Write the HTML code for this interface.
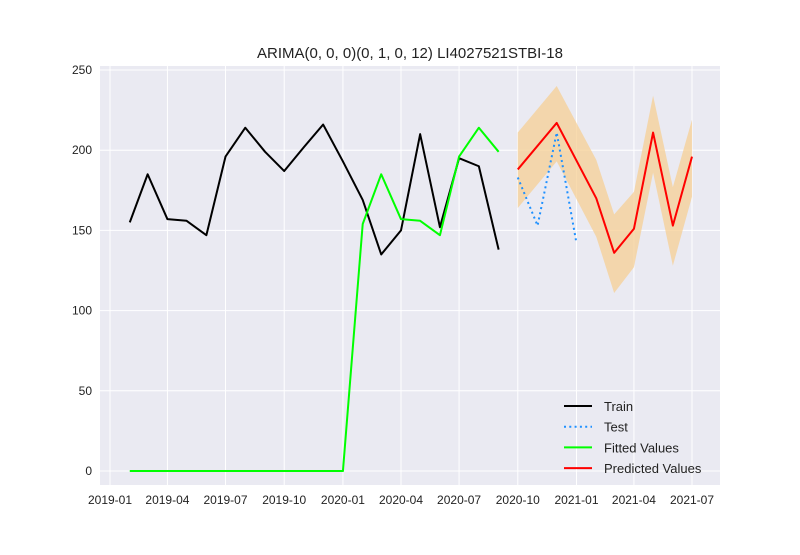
<!DOCTYPE html>
<html><head><meta charset="utf-8"><style>
body{margin:0;background:#fff;}
svg text{font-family:"Liberation Sans",Arial,sans-serif;}
</style></head><body>
<svg id="c" width="800" height="550" xmlns="http://www.w3.org/2000/svg"></svg>
<script>
const trainDates=["2019-02","2019-03","2019-04","2019-05","2019-06","2019-07","2019-08","2019-09","2019-10","2019-11","2019-12","2020-01","2020-02","2020-03","2020-04","2020-05","2020-06","2020-07","2020-08","2020-09"];
const trainVals=[155,185,157,156,147,196,214,199,187,202,216,193,169,135,150,210,152,195,190,138];
const fittedVals=[0,0,0,0,0,0,0,0,0,0,0,0,154,185,157,156,147,196,214,199];
const testDates=["2020-10","2020-11","2020-12","2021-01"];
const testVals=[183,153,211,142];
const predDates=["2020-10","2020-12","2021-02","2021-03","2021-04","2021-05","2021-06","2021-07"];
const predVals=[188,217,170,136,151,211,153,196];
const upperVals=[211,240,194,160,174,234,177,219];
const lowerVals=[164,193,146,111,127,186,128,171];
const yTicks=[0,50,100,150,200,250];
const xTicks=["2019-01","2019-04","2019-07","2019-10","2020-01","2020-04","2020-07","2020-10","2021-01","2021-04","2021-07"];

const NS="http://www.w3.org/2000/svg";
const svg=document.getElementById('c');
const L=100,R=720,T=66,B=485;
function d(s){const [y,m]=s.split('-').map(Number);return Date.UTC(y,m-1,1)/864e5;}
const d0=d("2019-01"),d1=d("2021-07");
const X=s=>110+(d(s)-d0)*(692-110)/(d1-d0);
const Y=v=>471-v*(401/250);
function el(t,a,p){const e=document.createElementNS(NS,t);for(const k in a)e.setAttribute(k,a[k]);(p||svg).appendChild(e);return e;}
const bg=el('rect',{x:L,y:T,width:R-L,height:B-T,fill:'#eaeaf2'});

yTicks.forEach(v=>{
 const g=el('line',{x1:L,x2:R,y1:Y(v),y2:Y(v),stroke:'#fff','stroke-width':1});
 
 const t=el('text',{x:L-8,y:Y(v)+4,'text-anchor':'end','font-size':12,fill:'#222'});t.textContent=v;
 
});
xTicks.forEach(s=>{
 const g=el('line',{x1:X(s),x2:X(s),y1:T,y2:B,stroke:'#fff','stroke-width':1});
 
 const t=el('text',{x:X(s),y:B+19,'text-anchor':'middle','font-size':12,fill:'#222'});t.textContent=s;
 
});
// CI band
let pts=predDates.map((s,i)=>X(s)+','+Y(upperVals[i]));
pts=pts.concat(predDates.map((s,i)=>X(s)+','+Y(lowerVals[i])).reverse());
const band=el('polygon',{points:pts.join(' '),fill:'#f5cf94',opacity:0.75});

function line(dates,vals,color,name,dash){
 const p=el('polyline',{points:dates.map((s,i)=>X(s)+','+Y(vals[i])).join(' '),fill:'none',stroke:color,'stroke-width':2,'stroke-linejoin':'round'});
 if(dash){p.setAttribute('stroke-dasharray','2,3.3');}
 
}
line(trainDates,trainVals,'#000','train-line');
line(testDates,testVals,'#1e90ff','test-line',true);
line(trainDates,fittedVals,'#00ff00','fitted-line');
line(predDates,predVals,'#ff0000','predicted-line');
const title=el('text',{x:410,y:58,'text-anchor':'middle','font-size':15,fill:'#222'});title.textContent='ARIMA(0, 0, 0)(0, 1, 0, 12) LI4027521STBI-18';

const lg=el('g',{});
const ent=[['Train','#000',0],['Test','#1e90ff',1],['Fitted Values','#00ff00',0],['Predicted Values','#ff0000',0]];
ent.forEach((e,i)=>{
 const y=406+i*20.7;
 const l=el('line',{x1:564,x2:592,y1:y,y2:y,stroke:e[1],'stroke-width':2},lg);
 if(e[2])l.setAttribute('stroke-dasharray','2,3.3');
 
 const t=el('text',{x:604,y:y+5,'font-size':13,fill:'#222'},lg);t.textContent=e[0];
 
});
</script>
</body></html>
